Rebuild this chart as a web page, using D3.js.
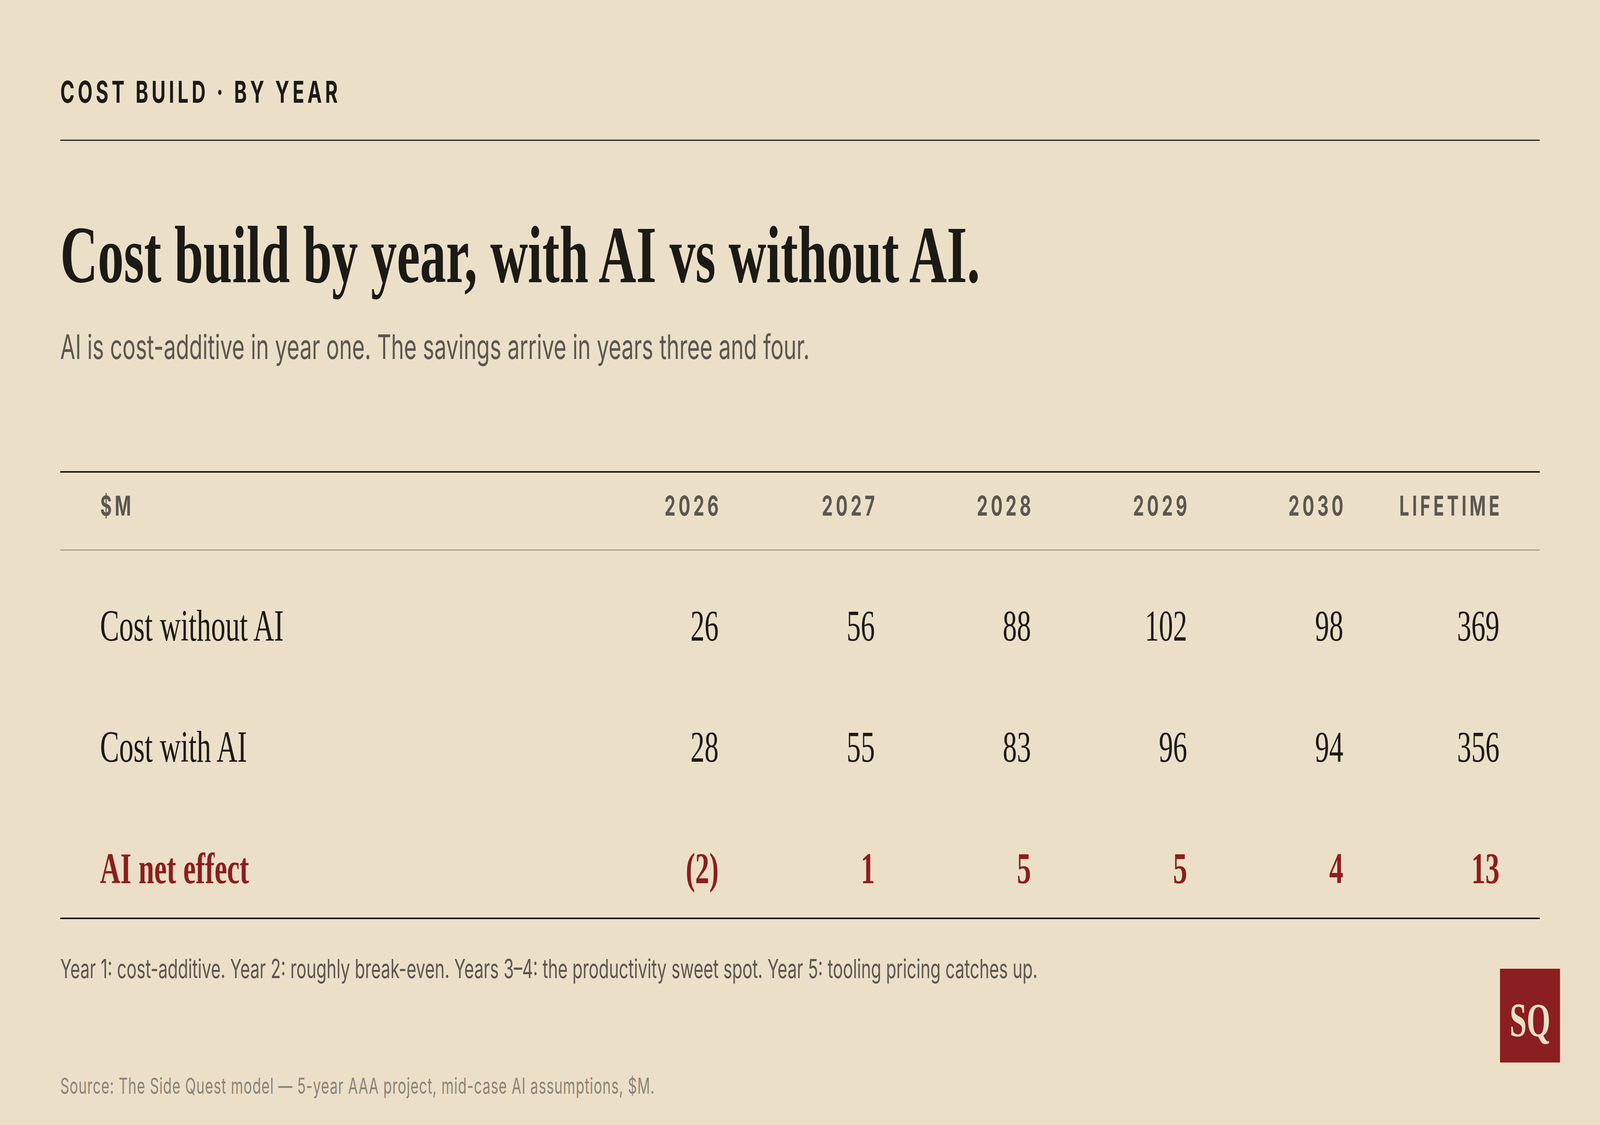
<!DOCTYPE html>
<html>
<head>
<meta charset="utf-8">
<script src="https://cdn.jsdelivr.net/npm/d3@7"></script>
<style>
  html, body { margin: 0; padding: 0; background: #EBDFC7; overflow: hidden; width: 100%; height: 100%; }
  #chart { width: 100vw; height: 100vh; }
  svg { display: block; width: 100vw; height: 100vh; }
</style>
</head>
<body>
<div id="chart"></div>
<script>
// ---- Data ----
const kicker = "COST BUILD · BY YEAR";
const title = "Cost build by year, with AI vs without AI.";
const subtitle = "AI is cost-additive in year one. The savings arrive in years three and four.";
const unitLabel = "$M";
const columns = ["2026", "2027", "2028", "2029", "2030", "LIFETIME"];
const rowLabels = ["Cost without AI", "Cost with AI", "AI net effect"];
const costWithoutAI = [26, 56, 88, 102, 98, 369];
const costWithAI = [28, 55, 83, 96, 94, 356];
const aiNetEffect = [-2, 1, 5, 5, 4, 13];
const footnote = "Year 1: cost-additive. Year 2: roughly break-even. Years 3–4: the productivity sweet spot. Year 5: tooling pricing catches up.";
const source = "Source: The Side Quest model — 5-year AAA project, mid-case AI assumptions, $M.";
const badge = "SQ";

const rowValues = [costWithoutAI, costWithAI, aiNetEffect];

// ---- Layout (designed on a 6400 x 2880 canvas, fitted to the window) ----
const W = 6400, H = 2880;
const left = 241, right = 6159;
const C = {
  bg: "#EBDFC7", ink: "#1C1A16", gray: "#5B5650", light: "#8C8478",
  rule: "#8A8072", red: "#8B1E1E"
};
const SANS = "Inter, 'Noto Sans', sans-serif";
const SERIF = "'Liberation Serif', 'DejaVu Serif', serif";

const svg = d3.select("#chart").append("svg")
  .attr("viewBox", `0 0 ${W} ${H}`)
  .attr("preserveAspectRatio", "none");

svg.append("rect").attr("width", W).attr("height", H).attr("fill", C.bg);

// Kicker
svg.append("text")
  .attr("x", left).attr("y", 263)
  .attr("font-family", SANS).attr("font-weight", 700).attr("font-size", 77)
  .style("letter-spacing", "13px")
  .attr("fill", C.ink).text(kicker);

svg.append("line").attr("x1", left).attr("x2", right).attr("y1", 359).attr("y2", 359)
  .attr("stroke", C.ink).attr("stroke-width", 3);

// Title
svg.append("text")
  .attr("x", left).attr("y", 722)
  .attr("font-family", SERIF).attr("font-weight", 700).attr("font-size", 208)
  .attr("fill", C.ink).text(title);

// Subtitle
svg.append("text")
  .attr("x", left).attr("y", 919)
  .attr("font-family", SANS).attr("font-weight", 400).attr("font-size", 87)
  .attr("fill", C.gray).text(subtitle);

// ---- Table ----
const padR = 161;
const x = d3.scaleBand().domain(columns).range([2411, right]).padding(0);
const colRight = c => x(c) + x.bandwidth() - padR;

const y = d3.scaleBand().domain(rowLabels).range([1408, 1408 + 3 * 310.5]).padding(0);
const baseline = r => y(r) + 232;

const tableTop = 1208, headerRule = 1408, tableBottom = 2351;

svg.append("line").attr("x1", left).attr("x2", right).attr("y1", tableTop).attr("y2", tableTop)
  .attr("stroke", C.ink).attr("stroke-width", 4);
svg.append("line").attr("x1", left).attr("x2", right).attr("y1", headerRule).attr("y2", headerRule)
  .attr("stroke", C.rule).attr("stroke-width", 2);
svg.append("line").attr("x1", left).attr("x2", right).attr("y1", tableBottom).attr("y2", tableBottom)
  .attr("stroke", C.ink).attr("stroke-width", 4);

const headLS = 12;
const header = svg.append("g")
  .attr("font-family", SANS).attr("font-weight", 700).attr("font-size", 70)
  .attr("fill", C.gray).style("letter-spacing", headLS + "px");

header.append("text").attr("x", 401).attr("y", 1320).text(unitLabel);

header.selectAll("text.col").data(columns).join("text")
  .attr("class", "col")
  .attr("x", d => colRight(d) + headLS)
  .attr("y", 1320)
  .attr("text-anchor", "end")
  .text(d => d);

const fmt = v => v < 0 ? `(${Math.abs(v)})` : String(v);

const rows = svg.selectAll("g.row").data(rowLabels).join("g").attr("class", "row");

rows.append("text")
  .attr("x", 400).attr("y", d => baseline(d))
  .attr("font-family", SERIF)
  .attr("font-size", (d, i) => i === 2 ? 113 : 115)
  .attr("font-weight", (d, i) => i === 2 ? 700 : 400)
  .attr("fill", (d, i) => i === 2 ? C.red : C.ink)
  .text(d => d);

rows.each(function (r, i) {
  d3.select(this).selectAll("text.val").data(rowValues[i]).join("text")
    .attr("class", "val")
    .attr("x", (v, j) => colRight(columns[j]))
    .attr("y", baseline(r))
    .attr("text-anchor", "end")
    .attr("font-family", SERIF).attr("font-size", 113)
    .attr("font-weight", i === 2 ? 700 : 400)
    .attr("fill", i === 2 ? C.red : C.ink)
    .text(v => fmt(v));
});

// Footnote & source
svg.append("text")
  .attr("x", left).attr("y", 2504)
  .attr("font-family", SANS).attr("font-size", 67)
  .attr("fill", C.gray).text(footnote);

svg.append("text")
  .attr("x", left).attr("y", 2800)
  .attr("font-family", SANS).attr("font-size", 56)
  .style("letter-spacing", "1.8px")
  .attr("fill", C.light).text(source);

// Badge
svg.append("rect").attr("x", 6000).attr("y", 2480).attr("width", 240).attr("height", 240)
  .attr("fill", C.red);
svg.append("text")
  .attr("x", 6120).attr("y", 2653).attr("text-anchor", "middle")
  .attr("font-family", SERIF).attr("font-weight", 700).attr("font-size", 122)
  .attr("fill", C.bg).text(badge);
</script>
</body>
</html>
